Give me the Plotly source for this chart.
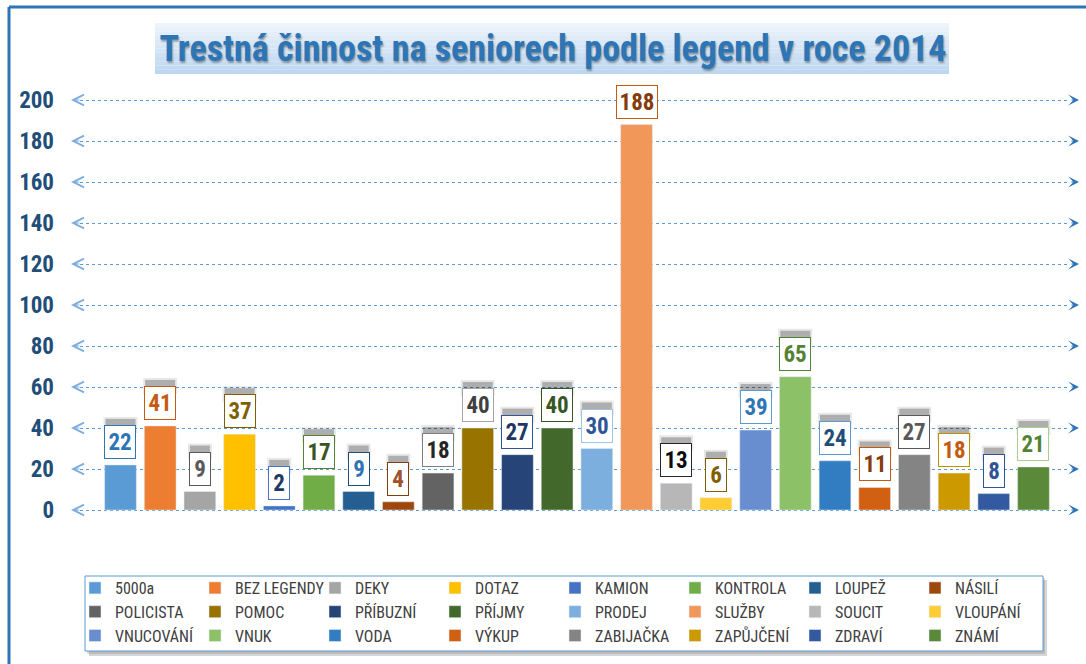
import plotly.graph_objects as go

# ---------------- data ----------------
categories = ["5000a", "BEZ LEGENDY", "DEKY", "DOTAZ", "KAMION", "KONTROLA", "LOUPEŽ", "NÁSILÍ",
              "POLICISTA", "POMOC", "PŘÍBUZNÍ", "PŘÍJMY", "PRODEJ", "SLUŽBY", "SOUCIT", "VLOUPÁNÍ",
              "VNUCOVÁNÍ", "VNUK", "VODA", "VÝKUP", "ZABIJAČKA", "ZAPŮJČENÍ", "ZDRAVÍ", "ZNÁMÍ"]
values = [22, 41, 9, 37, 2, 17, 9, 4, 18, 40, 27, 40, 30, 188, 13, 6, 39, 65, 24, 11, 27, 18, 8, 21]
y_ticks = [0, 20, 40, 60, 80, 100, 120, 140, 160, 180, 200]
title_text = "Trestná činnost na seniorech podle legend v roce 2014"

# ---------------- styles ----------------
bar_colors = ["#5B9BD5", "#ED7D31", "#A5A5A5", "#FFC000", "#4472C4", "#70AD47", "#255E91", "#9E480E",
              "#636363", "#997300", "#264478", "#43682B", "#7CAFDD", "#F1975A", "#B7B7B7", "#FFCD33",
              "#698ED0", "#8CC168", "#327DC2", "#D26012", "#848484", "#CC9A00", "#335AA1", "#5A8A39"]
label_text_colors = ["#2E75B6", "#C55A11", "#595959", "#7F6000", "#203864", "#375623", "#2E75B6", "#A0522D",
                     "#262626", "#404040", "#1F3864", "#375623", "#2F5597", "#843C0C", "#0D0D0D", "#7F6000",
                     "#2E75B6", "#548235", "#1F4E79", "#843C0C", "#595959", "#C55A11", "#2F5597", "#548235"]
label_border_colors = ["#2E75B6", "#C55A11", "#595959", "#7F6000", "#4472C4", "#548235", "#1F4E79", "#843C0C",
                       "#7F7F7F", "#A5A5A5", "#2F5597", "#375623", "#9DC3E6", "#C55A11", "#262626", "#7F6000",
                       "#5B9BD5", "#548235", "#5B9BD5", "#C55A11", "#595959", "#BF9000", "#2F5597", "#A9D18E"]

NARROW = "Liberation Sans Narrow, Arial Narrow, Roboto Condensed, Liberation Sans, sans-serif"

W, H = 1086, 664
L, R, T, B = 80, 18, 98, 4
PW, PH = W - L - R, H - T - B
Y0_PX = 510          # pixel row of value 0
PX_PER_UNIT = 2.05   # vertical scale


def px(x):
    return (x - L) / PW


def py(y):
    return (H - B - y) / PH


y_lo = -((H - B) - Y0_PX) / PX_PER_UNIT
y_hi = (Y0_PX - T) / PX_PER_UNIT

fig = go.Figure()
for cat, val, col in zip(categories, values, bar_colors):
    fig.add_trace(go.Bar(x=[cat], y=[val], name=cat, marker_color=col, width=0.8,
                         hovertemplate="%{x}: %{y}<extra></extra>"))

shapes = []
annotations = []

# frame lines
shapes.append(dict(type="line", xref="paper", yref="paper", x0=px(9), x1=px(1086), y0=py(7), y1=py(7),
                   line=dict(color="#2E75B6", width=3)))
shapes.append(dict(type="line", xref="paper", yref="paper", x0=px(9), x1=px(9), y0=py(7), y1=py(664),
                   line=dict(color="#2E75B6", width=3)))

# title background (vertical gradient imitation)
n_strips = 12
top_c = (236, 244, 252)
bot_c = (189, 215, 240)
y_top, y_bot = 23, 74
for i in range(n_strips):
    f = i / (n_strips - 1)
    c = tuple(int(top_c[k] + (bot_c[k] - top_c[k]) * f) for k in range(3))
    ya = y_top + (y_bot - y_top) * i / n_strips
    yb = y_top + (y_bot - y_top) * (i + 1) / n_strips
    shapes.append(dict(type="rect", xref="paper", yref="paper", x0=px(155), x1=px(949), y0=py(ya), y1=py(yb),
                       fillcolor="rgb(%d,%d,%d)" % c, line=dict(width=0), layer="below"))

# legend frame with shadow
shapes.append(dict(type="rect", xref="paper", yref="paper", x0=px(89), x1=px(1047), y0=py(580), y1=py(656),
                   fillcolor="rgba(0,0,0,0.16)", line=dict(width=0), layer="above"))
shapes.append(dict(type="rect", xref="paper", yref="paper", x0=px(87), x1=px(1045), y0=py(578), y1=py(654),
                   fillcolor="rgba(0,0,0,0.12)", line=dict(width=0), layer="above"))
shapes.append(dict(type="rect", xref="paper", yref="paper", x0=px(85), x1=px(1043), y0=py(576), y1=py(651),
                   fillcolor="white", line=dict(color="#5B9BD5", width=1), layer="above"))

# grid arrowheads
for t in y_ticks:
    annotations.append(dict(x=px(71), xref="paper", y=t, yref="y", text="", showarrow=True,
                            ax=10, ay=0, axref="pixel", ayref="pixel",
                            arrowhead=5, arrowsize=2.1, arrowwidth=1, arrowcolor="#7FAEDD"))
    annotations.append(dict(x=px(1079), xref="paper", y=t, yref="y", text="", showarrow=True,
                            ax=-9, ay=0, axref="pixel", ayref="pixel",
                            arrowhead=3, arrowsize=1.8, arrowwidth=1, arrowcolor="#2E75B6"))

# data labels with shadows
for cat, val, tc, bc in zip(categories, values, label_text_colors, label_border_colors):
    txt = str(val)
    w = 10 * len(txt) + 4
    half = (w + 8) / 2
    box_h = 34
    gap = 6
    shapes.append(dict(type="rect", xref="x", yref="y", xsizemode="pixel", ysizemode="pixel",
                       xanchor=cat, yanchor=val, x0=-half - 1, x1=half + 1,
                       y0=gap + box_h - 8, y1=gap + box_h + 8,
                       fillcolor="rgba(0,0,0,0.09)", line=dict(width=0), layer="above"))
    shapes.append(dict(type="rect", xref="x", yref="y", xsizemode="pixel", ysizemode="pixel",
                       xanchor=cat, yanchor=val, x0=-half + 1, x1=half - 1,
                       y0=gap + box_h - 8, y1=gap + box_h + 6,
                       fillcolor="rgba(0,0,0,0.25)", line=dict(width=0), layer="above"))
    annotations.append(dict(x=cat, y=val, xref="x", yref="y", text="<b>%s</b>" % txt, showarrow=False,
                            xanchor="center", yanchor="bottom", yshift=gap,
                            width=w, height=26, borderpad=3, borderwidth=1,
                            bgcolor="white", bordercolor=bc,
                            font=dict(family=NARROW, size=23, color=tc)))

fig.update_layout(
    width=W, height=H,
    margin=dict(l=L, r=R, t=T, b=B, pad=0, autoexpand=False),
    paper_bgcolor="white", plot_bgcolor="white",
    barmode="overlay",
    title=dict(text="<b>%s</b>" % title_text, x=553 / W, xanchor="center",
               y=1 - 48 / H, yanchor="middle",
               font=dict(family=NARROW, size=36, color="#2E75B6",
                         shadow="1px 2px 2px rgba(0,0,0,0.35)")),
    xaxis=dict(type="category", categoryorder="array", categoryarray=categories,
               range=[-1.02, 23.87], showticklabels=False, showgrid=False, zeroline=False,
               showline=False, ticks="", fixedrange=True),
    yaxis=dict(range=[y_lo, y_hi], tickmode="array", tickvals=y_ticks, showgrid=True,
               gridcolor="#5B9BD5", griddash="dot", gridwidth=1, zeroline=False, showline=False,
               ticks="", ticklabelstandoff=25, fixedrange=True,
               tickfont=dict(family=NARROW, size=23, color="#1F4E79", weight="bold")),
    legend=dict(orientation="h", x=px(1035), y=py(571), xanchor="right", yanchor="top",
                entrywidth=75, entrywidthmode="pixels", traceorder="normal",
                bgcolor="rgba(0,0,0,0)", borderwidth=0,
                font=dict(family=NARROW, size=16, color="#404040"), itemclick=False),
    shapes=shapes,
    annotations=annotations,
    showlegend=True,
)

fig.write_html("out.html", config={"displayModeBar": False},
               post_script="document.body.style.margin='0';document.body.style.overflow='hidden';")
